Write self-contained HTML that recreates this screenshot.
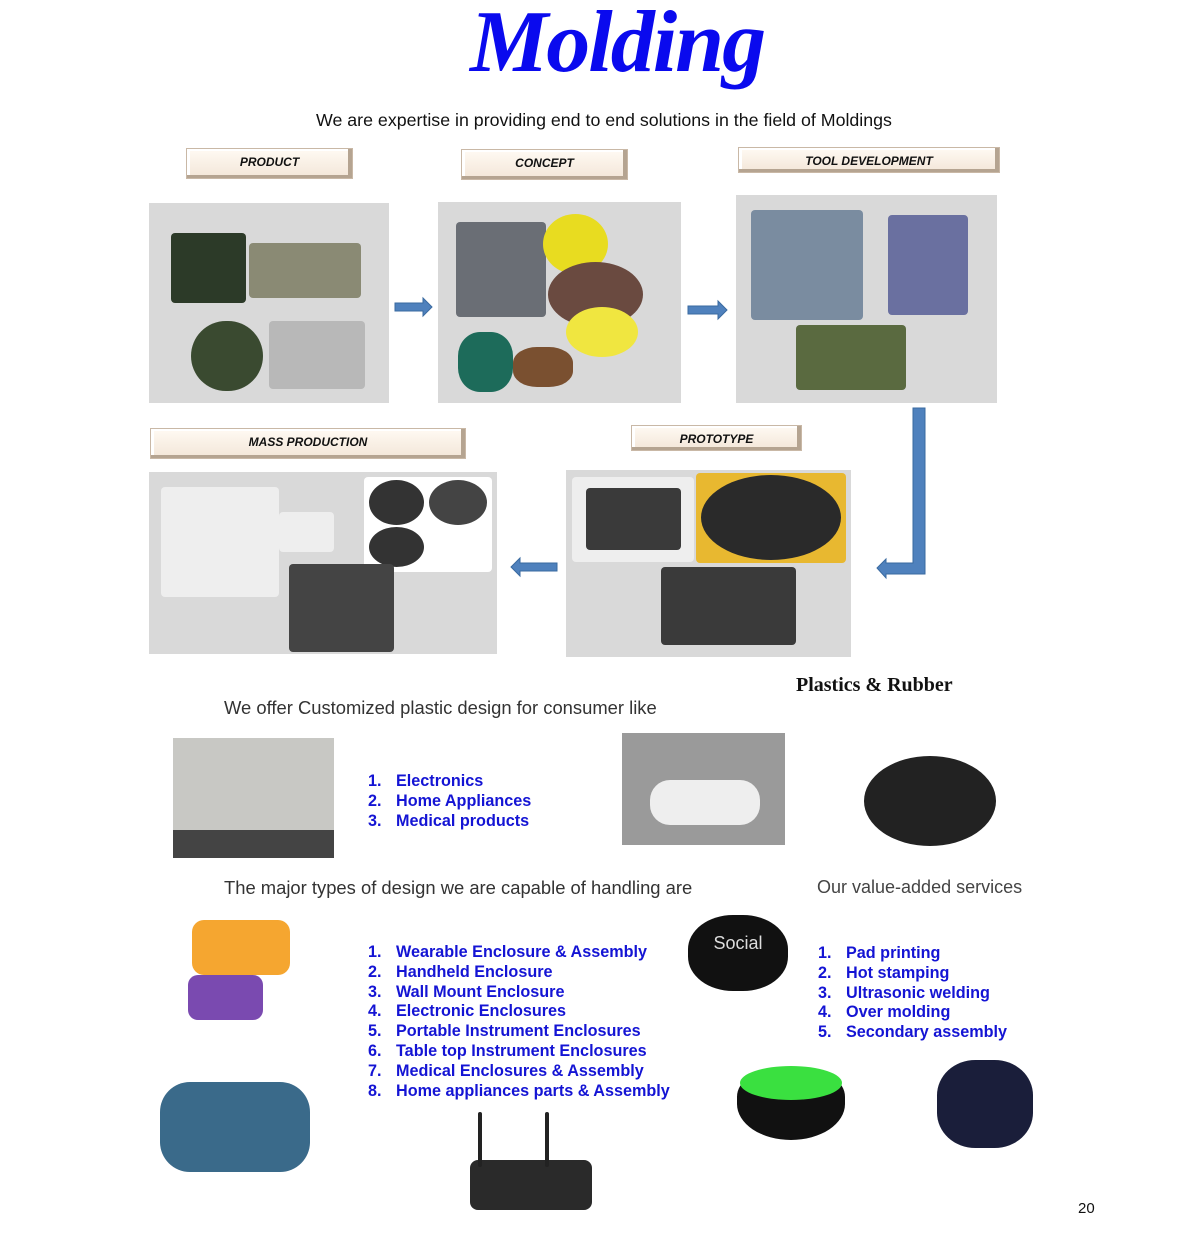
<!DOCTYPE html>
<html><head><style>
body{margin:0;width:1195px;height:1242px;background:#fff;position:relative;overflow:hidden;font-family:"Liberation Sans",sans-serif}
.a{position:absolute}
.btn{position:absolute;background:linear-gradient(#fffaf3,#f3e6d8);border:1px solid #c9b8a6;box-shadow:inset -4px -3px 0 #b5a491,inset 3px 2px 0 #fff;font:italic bold 12px "Liberation Sans",sans-serif;text-align:center;color:#111}
.pan{position:absolute;background:#d9d9d9}
.bl{color:#1414d4;font-weight:bold;font-size:16.2px;line-height:19.8px}
.bl span{display:inline-block;width:28px}
.ph{position:absolute;border-radius:4px}
</style></head><body>
<div class="a" style="left:470px;top:-8px;width:290px;text-align:center;font:italic bold 88px 'Liberation Serif',serif;color:#0a0aee;letter-spacing:-2px">Molding</div>
<div class="a" style="left:316px;top:110px;font-size:17.8px;color:#111">We are expertise in providing end to end solutions in the field of Moldings</div>

<div class="btn" style="left:186px;top:148px;width:165px;height:29px;line-height:26px">PRODUCT</div>
<div class="btn" style="left:461px;top:149px;width:165px;height:29px;line-height:26px">CONCEPT</div>
<div class="btn" style="left:738px;top:147px;width:260px;height:24px;line-height:26px">TOOL DEVELOPMENT</div>
<div class="btn" style="left:150px;top:428px;width:314px;height:29px;line-height:26px">MASS PRODUCTION</div>
<div class="btn" style="left:631px;top:425px;width:169px;height:24px;line-height:26px">PROTOTYPE</div>

<div class="pan" style="left:149px;top:203px;width:240px;height:200px">
 <div class="ph" style="left:22px;top:30px;width:75px;height:70px;background:#2c3a28"></div>
 <div class="ph" style="left:100px;top:40px;width:112px;height:55px;background:#8a8a74"></div>
 <div class="ph" style="left:42px;top:118px;width:72px;height:70px;background:#3a4a30;border-radius:40px"></div>
 <div class="ph" style="left:120px;top:118px;width:96px;height:68px;background:#b8b8b8"></div>
</div>
<div class="pan" style="left:438px;top:202px;width:243px;height:201px">
 <div class="ph" style="left:18px;top:20px;width:90px;height:95px;background:#6a6e75"></div>
 <div class="ph" style="left:105px;top:12px;width:65px;height:60px;background:#e8dc20;border-radius:50%"></div>
 <div class="ph" style="left:110px;top:60px;width:95px;height:65px;background:#6a4a40;border-radius:50%"></div>
 <div class="ph" style="left:128px;top:105px;width:72px;height:50px;background:#f0e640;border-radius:50%"></div>
 <div class="ph" style="left:20px;top:130px;width:55px;height:60px;background:#1d6b5a;border-radius:40%"></div>
 <div class="ph" style="left:75px;top:145px;width:60px;height:40px;background:#7a5030;border-radius:40%"></div>
</div>
<div class="pan" style="left:736px;top:195px;width:261px;height:208px">
 <div class="ph" style="left:15px;top:15px;width:112px;height:110px;background:#7a8ca0"></div>
 <div class="ph" style="left:152px;top:20px;width:80px;height:100px;background:#6a70a0"></div>
 <div class="ph" style="left:60px;top:130px;width:110px;height:65px;background:#5a6a40"></div>
</div>
<div class="pan" style="left:149px;top:472px;width:348px;height:182px">
 <div class="ph" style="left:12px;top:15px;width:118px;height:110px;background:#eee"></div>
 <div class="ph" style="left:130px;top:40px;width:55px;height:40px;background:#eee"></div>
 <div class="ph" style="left:215px;top:5px;width:128px;height:95px;background:#fff"></div>
 <div class="ph" style="left:220px;top:8px;width:55px;height:45px;background:#333;border-radius:50%"></div>
 <div class="ph" style="left:280px;top:8px;width:58px;height:45px;background:#444;border-radius:50%"></div>
 <div class="ph" style="left:220px;top:55px;width:55px;height:40px;background:#333;border-radius:50%"></div>
 <div class="ph" style="left:140px;top:92px;width:105px;height:88px;background:#444"></div>
</div>
<div class="pan" style="left:566px;top:470px;width:285px;height:187px">
 <div class="ph" style="left:6px;top:7px;width:122px;height:85px;background:#eee"></div>
 <div class="ph" style="left:20px;top:18px;width:95px;height:62px;background:#3a3a3a"></div>
 <div class="ph" style="left:130px;top:3px;width:150px;height:90px;background:#e8b830"></div>
 <div class="ph" style="left:135px;top:5px;width:140px;height:85px;background:#2a2a2a;border-radius:50%"></div>
 <div class="ph" style="left:95px;top:97px;width:135px;height:78px;background:#3a3a3a"></div>
</div>

<svg class="a" style="left:0;top:0" width="1195" height="700">
 <g fill="#4f81bd" stroke="#3a6aa0" stroke-width="1">
  <polygon points="395,303 423,303 423,298 432,307 423,316 423,311 395,311"/>
  <polygon points="688,306 718,306 718,301 727,310 718,319 718,314 688,314"/>
  <polygon points="557,563 520,563 520,558 511,567 520,576 520,571 557,571"/>
  <polygon points="913,408 925,408 925,574 886,574 886,578 877,568 886,559 886,563 913,563"/>
 </g>
</svg>

<div class="a" style="left:796px;top:674px;font:bold 20px 'Liberation Serif',serif;color:#111">Plastics &amp; Rubber</div>
<div class="a" style="left:224px;top:697px;font-size:18.4px;color:#333">We offer Customized plastic design for consumer like</div>
<div class="ph" style="left:173px;top:738px;width:161px;height:120px;background:#c8c8c4;border-radius:0"></div>
<div class="ph" style="left:173px;top:830px;width:161px;height:28px;background:#444;border-radius:0"></div>
<div class="a bl" style="left:368px;top:772px"><div><span>1.</span>Electronics</div><div><span>2.</span>Home Appliances</div><div><span>3.</span>Medical products</div></div>
<div class="ph" style="left:622px;top:733px;width:163px;height:112px;background:#9a9a9a;border-radius:0"></div>
<div class="ph" style="left:650px;top:780px;width:110px;height:45px;background:#eee;border-radius:20px"></div>
<div class="ph" style="left:864px;top:756px;width:132px;height:90px;background:#222;border-radius:50%"></div>

<div class="a" style="left:224px;top:877px;font-size:18.4px;color:#333">The major types of design we are capable of handling are</div>
<div class="a" style="left:817px;top:877px;font-size:18px;color:#444">Our value-added services</div>

<div class="ph" style="left:192px;top:920px;width:98px;height:55px;background:#f5a630;border-radius:12px"></div>
<div class="ph" style="left:188px;top:975px;width:75px;height:45px;background:#7a4ab0;border-radius:10px"></div>
<div class="a bl" style="left:368px;top:943px"><div><span>1.</span>Wearable Enclosure &amp; Assembly</div><div><span>2.</span>Handheld Enclosure</div><div><span>3.</span>Wall Mount Enclosure</div><div><span>4.</span>Electronic Enclosures</div><div><span>5.</span>Portable Instrument Enclosures</div><div><span>6.</span>Table top Instrument Enclosures</div><div><span>7.</span>Medical Enclosures &amp; Assembly</div><div><span>8.</span>Home appliances parts &amp; Assembly</div></div>
<div class="ph" style="left:688px;top:915px;width:100px;height:76px;background:#111;border-radius:45%;color:#ddd;font-size:18px;text-align:center;line-height:56px">Social</div>
<div class="a bl" style="left:818px;top:944px"><div><span>1.</span>Pad printing</div><div><span>2.</span>Hot stamping</div><div><span>3.</span>Ultrasonic welding</div><div><span>4.</span>Over molding</div><div><span>5.</span>Secondary assembly</div></div>

<div class="ph" style="left:160px;top:1082px;width:150px;height:90px;background:#3a6a8a;border-radius:30px"></div>
<div class="ph" style="left:470px;top:1160px;width:122px;height:50px;background:#2a2a2a;border-radius:8px"></div>
<div class="ph" style="left:478px;top:1112px;width:4px;height:55px;background:#222"></div>
<div class="ph" style="left:545px;top:1112px;width:4px;height:55px;background:#222"></div>
<div class="ph" style="left:737px;top:1068px;width:108px;height:72px;background:#111;border-radius:40% 40% 50% 50%"></div>
<div class="ph" style="left:740px;top:1066px;width:102px;height:34px;background:#3ae040;border-radius:50%"></div>
<div class="ph" style="left:937px;top:1060px;width:96px;height:88px;background:#1a1e3a;border-radius:40%"></div>

<div class="a" style="left:1078px;top:1200px;font-size:15px;color:#111">20</div>
</body></html>
